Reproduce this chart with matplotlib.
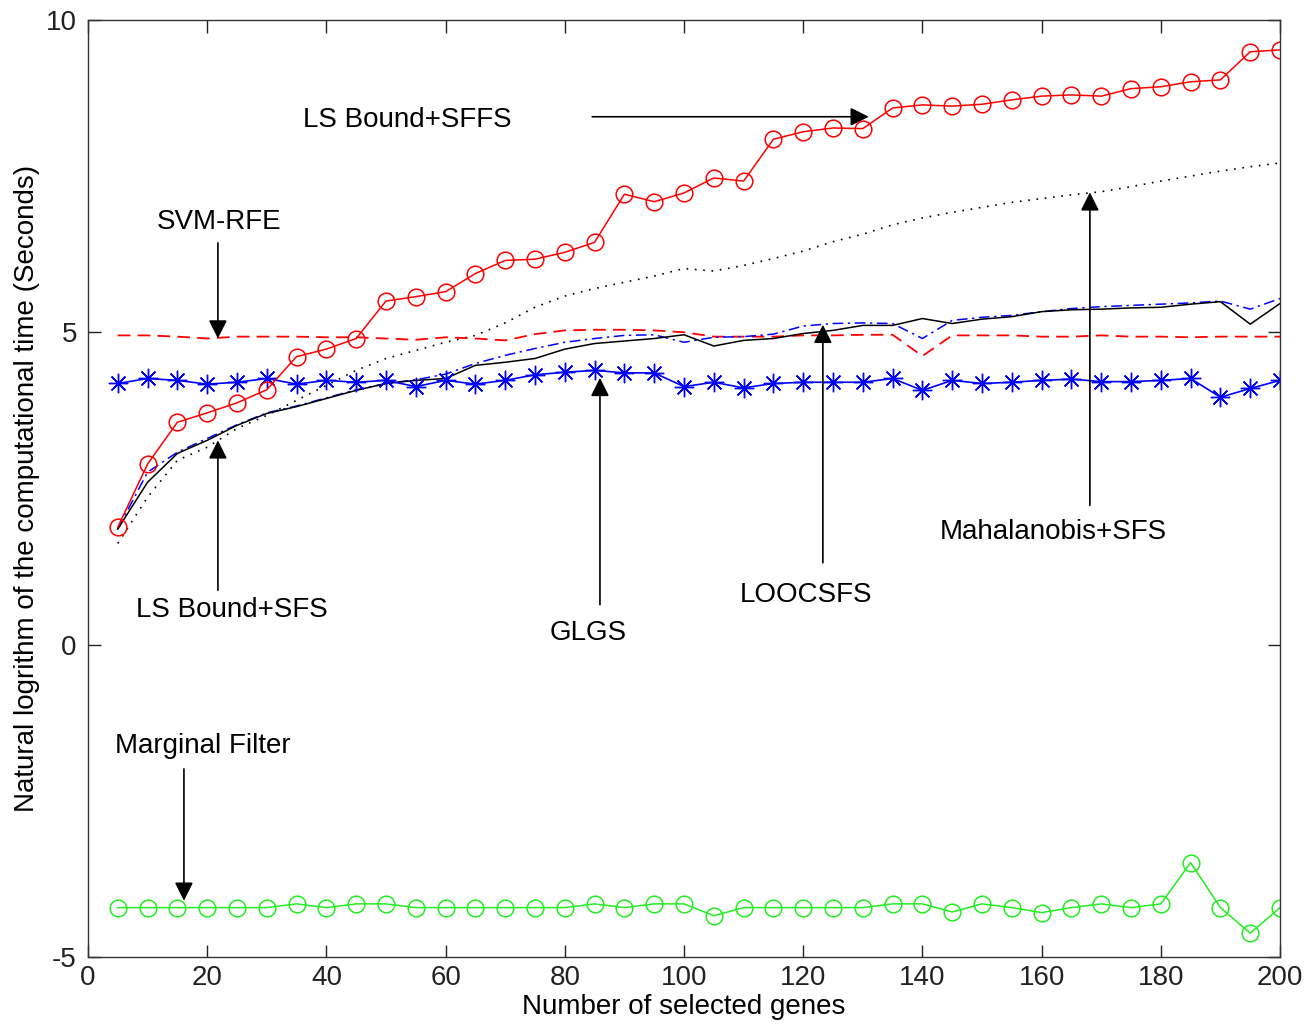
import numpy as np
import matplotlib.pyplot as plt

plt.rcParams['font.family'] = ['Liberation Sans', 'DejaVu Sans']
plt.rcParams['font.size'] = 20
plt.rcParams['axes.unicode_minus'] = False

# Number of selected genes
n_genes = np.arange(5, 201, 5)

# Natural log of computational time (seconds)
ls_bound_sffs = [1.88, 2.89, 3.56, 3.71, 3.87, 4.08, 4.61, 4.73, 4.90, 5.50,
                 5.57, 5.65, 5.94, 6.15, 6.17, 6.28, 6.44, 7.21, 7.09, 7.23,
                 7.47, 7.42, 8.09, 8.21, 8.27, 8.26, 8.59, 8.64, 8.62, 8.65,
                 8.72, 8.78, 8.80, 8.78, 8.90, 8.93, 9.01, 9.04, 9.49, 9.52]
glgs = [4.18, 4.26, 4.23, 4.17, 4.20, 4.26, 4.17, 4.23, 4.20, 4.23,
        4.13, 4.23, 4.17, 4.23, 4.32, 4.36, 4.39, 4.35, 4.35, 4.13,
        4.20, 4.11, 4.18, 4.20, 4.20, 4.20, 4.26, 4.07, 4.23, 4.18,
        4.20, 4.23, 4.25, 4.21, 4.21, 4.23, 4.26, 3.96, 4.10, 4.23]
svm_rfe = [4.95, 4.95, 4.93, 4.90, 4.93, 4.93, 4.93, 4.92, 4.92, 4.90,
           4.88, 4.92, 4.90, 4.87, 4.97, 5.03, 5.04, 5.04, 5.03, 5.00,
           4.93, 4.93, 4.93, 4.95, 4.95, 4.96, 4.96, 4.62, 4.95, 4.95,
           4.95, 4.93, 4.93, 4.95, 4.93, 4.93, 4.92, 4.93, 4.93, 4.93]
ls_bound_sfs = [1.85, 2.60, 3.06, 3.27, 3.51, 3.70, 3.81, 3.94, 4.07, 4.18,
                4.23, 4.26, 4.47, 4.52, 4.58, 4.73, 4.82, 4.86, 4.90, 4.96,
                4.78, 4.87, 4.90, 4.98, 5.03, 5.11, 5.11, 5.22, 5.14, 5.21,
                5.25, 5.33, 5.36, 5.37, 5.39, 5.40, 5.45, 5.49, 5.13, 5.46]
loocsfs = [1.85, 2.76, 3.08, 3.30, 3.52, 3.71, 3.82, 3.95, 4.08, 4.18,
           4.24, 4.33, 4.50, 4.63, 4.74, 4.84, 4.90, 4.95, 4.96, 4.84,
           4.92, 4.93, 4.97, 5.10, 5.14, 5.15, 5.14, 4.90, 5.19, 5.24,
           5.27, 5.33, 5.38, 5.41, 5.43, 5.45, 5.47, 5.50, 5.37, 5.54]
mahalanobis_sfs = [1.62, 2.36, 2.95, 3.16, 3.46, 3.67, 3.91, 4.15, 4.39, 4.58,
                   4.71, 4.84, 4.95, 5.15, 5.40, 5.58, 5.70, 5.80, 5.90, 6.02,
                   5.98, 6.07, 6.18, 6.30, 6.45, 6.57, 6.72, 6.83, 6.92, 7.00,
                   7.08, 7.14, 7.20, 7.25, 7.33, 7.42, 7.50, 7.58, 7.65, 7.71]
marginal_filter = [-4.21, -4.21, -4.21, -4.21, -4.21, -4.21, -4.15, -4.21, -4.15, -4.15,
                   -4.21, -4.21, -4.21, -4.21, -4.21, -4.21, -4.15, -4.21, -4.15, -4.15,
                   -4.34, -4.21, -4.21, -4.21, -4.21, -4.21, -4.15, -4.15, -4.28, -4.15,
                   -4.21, -4.29, -4.21, -4.15, -4.21, -4.15, -3.49, -4.21, -4.62, -4.21]

fig = plt.figure(figsize=(13.15, 10.32), dpi=100)
ax = fig.add_axes([0.0669, 0.0727, 0.9065, 0.908])

ax.plot(n_genes, mahalanobis_sfs, color='k', linestyle=(0, (1, 4)), lw=1.2)
ax.plot(n_genes, svm_rfe, color='red', linestyle=(0, (7, 4)), lw=1.3)
ax.plot(n_genes, loocsfs, color='blue', linestyle=(0, (7, 3, 1.5, 3)), lw=1.1)
ax.plot(n_genes, ls_bound_sfs, color='k', linestyle='-', lw=1.1)
ax.plot(n_genes, glgs, color='blue', linestyle='-', lw=1.2,
        marker=(8, 2, 0), markersize=14, markeredgewidth=1.0)
ax.plot(n_genes, ls_bound_sffs, color='red', linestyle='-', lw=1.1,
        marker='o', markersize=12, markerfacecolor='none', markeredgewidth=1.1)
ax.plot(n_genes, marginal_filter, color='#22ee22', linestyle='-', lw=1.1,
        marker='o', markersize=12, markerfacecolor='none', markeredgewidth=1.1)

# Annotations: (label, text position, arrow tail, arrow head)
arrow_kw = dict(arrowstyle='-|>', color='k', lw=1.2, mutation_scale=28,
                shrinkA=0, shrinkB=0)
notes = [
    ('LS Bound+SFFS', (53.5, 8.40), (84.6, 8.45), (131.0, 8.45)),
    ('SVM-RFE', (22.0, 6.76), (21.8, 6.43), (21.8, 4.90)),
    ('LS Bound+SFS', (24.2, 0.55), (21.8, 0.87), (21.8, 3.27)),
    ('GLGS', (83.9, 0.19), (85.9, 0.64), (85.9, 4.27)),
    ('LOOCSFS', (120.5, 0.80), (123.3, 1.31), (123.3, 5.12)),
    ('Mahalanobis+SFS', (161.9, 1.81), (168.1, 2.23), (168.1, 7.24)),
    ('Marginal Filter', (19.3, -1.63), (16.1, -1.99), (16.1, -4.10)),
]
for label, txt_pos, tail, head in notes:
    ax.text(txt_pos[0], txt_pos[1], label, ha='center', va='center', fontsize=20)
    ax.annotate('', xy=head, xytext=tail, arrowprops=arrow_kw)

ax.set_xlim(0, 200)
ax.set_ylim(-5, 10)
ax.set_xticks(np.arange(0, 201, 20))
ax.set_yticks([-5, 0, 5, 10])
ax.tick_params(direction='in', length=9, width=1, top=True, right=True,
               labelsize=20, colors='#222222')
ax.tick_params(axis='x', pad=6)
ax.tick_params(axis='y', pad=8)
for sp in ax.spines.values():
    sp.set_color('#333333')
    sp.set_linewidth(1.0)

ax.set_xlabel('Number of selected genes', fontsize=20, labelpad=2)
ax.set_ylabel('Natural logrithm of the computational time (Seconds)', fontsize=20,
              labelpad=4)

fig.savefig('out.png', dpi=100)
